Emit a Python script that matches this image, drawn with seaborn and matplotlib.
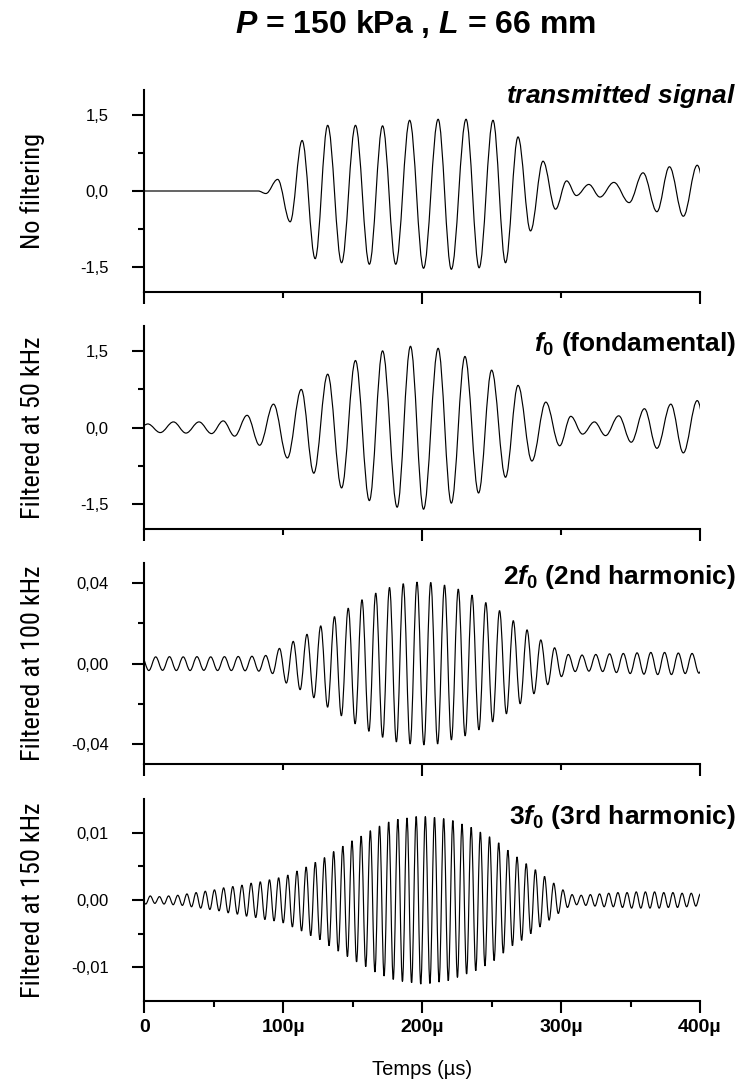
import numpy as np
import matplotlib
matplotlib.use("Agg")
import matplotlib.pyplot as plt
import matplotlib.font_manager as fm
from matplotlib.path import Path
from matplotlib.patches import PathPatch
from matplotlib.ticker import FixedLocator, FuncFormatter
import seaborn as sns

# ---------------------------------------------------------------- data
# Unfiltered transmitted signal: successive extrema (time in µs, amplitude)
raw_t = [0, 82, 87.5, 96, 105, 113.6, 123, 132, 142, 152,
         162, 171.5, 181, 191, 201, 211.5, 221, 231.6, 241, 251,
         260, 269, 278, 287, 296, 304, 311, 320, 328, 338,
         349, 359, 369, 378, 388, 398, 407]
raw_v = [0.0, 0.0, -0.05, 0.23, -0.61, 1.00, -1.34, 1.30, -1.42, 1.30,
         -1.45, 1.29, -1.45, 1.40, -1.53, 1.42, -1.55, 1.42, -1.52, 1.40,
         -1.42, 1.07, -0.79, 0.59, -0.36, 0.20, -0.09, 0.13, -0.12, 0.17,
         -0.23, 0.36, -0.41, 0.48, -0.50, 0.51, -0.48]

# Fundamental (50 kHz band): successive extrema
f0_t = [0, 2.5, 11.5, 21, 30, 39.4, 48.4, 56.8, 65, 74,
        83, 93, 103, 113, 122, 132, 142, 152, 162, 171.5,
        182, 191.6, 201, 211.5, 221, 230.8, 240.6, 250, 260, 269,
        279, 289, 299, 307, 315.5, 324, 332, 341.5, 350.5, 360,
        369, 379, 388, 398, 407]
f0_v = [0.05, 0.07, -0.10, 0.11, -0.11, 0.11, -0.12, 0.13, -0.17, 0.24,
        -0.35, 0.46, -0.60, 0.75, -0.90, 1.05, -1.19, 1.32, -1.44, 1.51,
        -1.57, 1.60, -1.61, 1.56, -1.49, 1.40, -1.29, 1.13, -0.98, 0.83,
        -0.66, 0.50, -0.36, 0.22, -0.13, 0.11, -0.16, 0.23, -0.29, 0.37,
        -0.41, 0.46, -0.50, 0.53, -0.50]

# 2nd harmonic (100 kHz band): magnitude of each successive half-cycle,
# crest first, extrema spaced by half a period
h2_first, h2_half = -1.7, 4.95
h2_amp = [0.0033,
          0.0035, 0.0033, 0.0034, 0.0034, 0.0035, 0.0033, 0.0035, 0.0034, 0.0034,
          0.0033, 0.0035, 0.0034, 0.0035, 0.0035, 0.0036, 0.0036, 0.0038, 0.0040,
          0.0050, 0.0075, 0.0097, 0.0110, 0.0130, 0.0145, 0.0170, 0.0187, 0.0217,
          0.0233, 0.0260, 0.0275, 0.0300, 0.0317, 0.0337, 0.0350, 0.0367, 0.0378,
          0.0390, 0.0397, 0.0400, 0.0405, 0.0405, 0.0403, 0.0400, 0.0390, 0.0380,
          0.0370, 0.0360, 0.0340, 0.0330, 0.0303, 0.0290, 0.0263, 0.0250, 0.0213,
          0.0200, 0.0167, 0.0150, 0.0117, 0.0105, 0.0078, 0.0065, 0.0045,
          0.0040, 0.0042, 0.0038, 0.0045, 0.0040, 0.0048, 0.0045, 0.0050, 0.0050,
          0.0053, 0.0053, 0.0055, 0.0055, 0.0055, 0.0055, 0.0052, 0.0050, 0.0050,
          0.0048, 0.0048]

# 3rd harmonic (150 kHz band): same layout
h3_first, h3_half = -2.3, 3.3
h3_amp = [0.0006,
          0.0006, 0.0006, 0.0005, 0.0005, 0.0006, 0.0006, 0.0007, 0.0007, 0.0008, 0.0009,
          0.0010, 0.0011, 0.0012, 0.0013, 0.0014, 0.0015, 0.0016, 0.0018, 0.0019, 0.0020,
          0.0021, 0.0022, 0.0024, 0.0025, 0.0026, 0.0027, 0.0029, 0.0030, 0.0031, 0.0033,
          0.0034, 0.0037, 0.0040, 0.0043, 0.0046, 0.0049, 0.0053, 0.0056, 0.0059, 0.0063,
          0.0068, 0.0072, 0.0076, 0.0080, 0.0084, 0.0088, 0.0092, 0.0095, 0.0099, 0.0103,
          0.0107, 0.0110, 0.0113, 0.0116, 0.0118, 0.0120, 0.0121, 0.0122, 0.0123, 0.0124,
          0.0125, 0.0124, 0.0124, 0.0123, 0.0122, 0.0121, 0.0120, 0.0118, 0.0115, 0.0113,
          0.0110, 0.0108, 0.0105, 0.0101, 0.0098, 0.0094, 0.0090, 0.0085, 0.0079, 0.0074,
          0.0068, 0.0064, 0.0060, 0.0054, 0.0050, 0.0045, 0.0040, 0.0035, 0.0030, 0.0025,
          0.0020, 0.0015, 0.0011, 0.0008, 0.0007, 0.0007, 0.0008, 0.0008, 0.0009, 0.0009,
          0.0010, 0.0010, 0.0010, 0.0011, 0.0011, 0.0011, 0.0012, 0.0012, 0.0012, 0.0012,
          0.0012, 0.0012, 0.0012, 0.0011, 0.0011, 0.0011, 0.0011, 0.0010, 0.0010, 0.0010,
          0.0009, 0.0009]

panel_ylabels = ["No filtering", "Filtered at 50 kHz",
                 "Filtered at 100 kHz", "Filtered at 150 kHz"]
panel_tags = [r"$\mathit{transmitted\ signal}$",
              r"$\mathit{f}_{\mathit{0}}$ (fondamental)",
              r"$\mathit{2f}_{\mathit{0}}$ (2nd harmonic)",
              r"$\mathit{3f}_{\mathit{0}}$ (3rd harmonic)"]
panel_ylim = [2.0, 2.0, 0.05, 0.015]
panel_major = [[-1.5, 0.0, 1.5], [-1.5, 0.0, 1.5],
               [-0.04, 0.0, 0.04], [-0.01, 0.0, 0.01]]
panel_minor = [[-0.75, 0.75], [-0.75, 0.75], [-0.02, 0.02], [-0.005, 0.005]]
panel_decimals = [1, 1, 2, 2]
x_major = [0, 100, 200, 300, 400]
x_labels = ["0", "100µ", "200µ", "300µ", "400µ"]
title = r"$\mathit{P}$ = 150 kPa , $\mathit{L}$ = 66 mm"
xlabel = "Temps (µs)"


def harmonic_extrema(first, half, amp):
    t = first + half * np.arange(len(amp))
    sign = np.where(np.arange(len(amp)) % 2 == 0, 1.0, -1.0)
    return t, sign * np.asarray(amp)


def wave_path(t, v):
    """Smooth half-wave arcs between successive extrema (flat tangents)."""
    c = 1.0 - 2.0 / np.pi
    verts = [(t[0], v[0])]
    codes = [Path.MOVETO]
    for i in range(1, len(t)):
        dt = t[i] - t[i - 1]
        verts += [(t[i - 1] + c * dt, v[i - 1]), (t[i] - c * dt, v[i]), (t[i], v[i])]
        codes += [Path.CURVE4] * 3
    return Path(verts, codes)


h2_t, h2_v = harmonic_extrema(h2_first, h2_half, h2_amp)
h3_t, h3_v = harmonic_extrema(h3_first, h3_half, h3_amp)
signals = [(raw_t, raw_v), (f0_t, f0_v), (h2_t, h2_v), (h3_t, h3_v)]

# ---------------------------------------------------------------- style
sns.set_theme(style="ticks", rc={
    "axes.linewidth": 1.5, "axes.edgecolor": "black",
    "xtick.color": "black", "ytick.color": "black",
    "text.color": "black", "axes.labelcolor": "black",
    "xtick.major.size": 8.6, "xtick.minor.size": 4.3,
    "ytick.major.size": 8.6, "ytick.minor.size": 4.3,
    "xtick.major.width": 1.5, "xtick.minor.width": 1.5,
    "ytick.major.width": 1.5, "ytick.minor.width": 1.5,
})
plt.rcParams["font.family"] = ["Liberation Sans", "DejaVu Sans"]
plt.rcParams["mathtext.fontset"] = "custom"
plt.rcParams["mathtext.rm"] = "Liberation Sans:bold"
plt.rcParams["mathtext.it"] = "Liberation Sans:italic:bold"
plt.rcParams["mathtext.bf"] = "Liberation Sans:bold"

names = {f.name for f in fm.fontManager.ttflist}
narrow_family = None
for cand in ["Liberation Sans Narrow", "Arial Narrow", "DejaVu Sans Condensed",
             "Roboto Condensed", "Open Sans Condensed"]:
    if cand in names:
        narrow_family = cand
        break
narrow_stretch = "normal"
if narrow_family is None:
    cond = [f for f in fm.fontManager.ttflist if f.stretch == "condensed"
            and f.style == "normal" and f.weight in (400, "normal")]
    if cond:
        narrow_family = cond[0].name
        narrow_stretch = "condensed"
    else:
        narrow_family = "Liberation Sans"

W, H = 740, 1081
fig = plt.figure(figsize=(W / 100, H / 100), dpi=100)

# panel frames in pixels: (top, bottom)
frames = [(90, 292), (326, 529), (563, 764), (799, 1001)]
x_left, x_right = 144.3, 700
tag_baselines = [103, 351, 584, 824]

for i, ((t, v), (top, bot)) in enumerate(zip(signals, frames)):
    ax = fig.add_axes([x_left / W, 1 - bot / H, (x_right - x_left) / W, (bot - top) / H])
    ax.add_patch(PathPatch(wave_path(np.asarray(t, float), np.asarray(v, float)),
                           fill=False, edgecolor="black", lw=0.85))
    ax.set_xlim(0, 400)
    ax.set_ylim(-panel_ylim[i], panel_ylim[i])
    sns.despine(ax=ax)

    ax.yaxis.set_major_locator(FixedLocator(panel_major[i]))
    ax.yaxis.set_minor_locator(FixedLocator(panel_minor[i]))
    d = panel_decimals[i]
    ax.yaxis.set_major_formatter(
        FuncFormatter(lambda y, _, d=d: f"{y + 0.0:.{d}f}".replace(".", ",")))
    ax.tick_params(axis="y", which="major", labelsize=12, pad=17)

    if i < 3:
        ax.xaxis.set_major_locator(FixedLocator([0, 200, 400]))
        ax.xaxis.set_minor_locator(FixedLocator([100, 300]))
        ax.tick_params(axis="x", which="both", labelbottom=False)
    else:
        ax.xaxis.set_major_locator(FixedLocator(x_major))
        ax.xaxis.set_minor_locator(FixedLocator([50, 150, 250, 350]))
        ax.set_xticklabels(x_labels, fontsize=14, fontweight="bold")
        ax.tick_params(axis="x", which="major", pad=4)

    fig.text(33 / W, 1 - (top + bot) / 2 / H, panel_ylabels[i], rotation=90,
             ha="center", va="center", fontsize=19, family=narrow_family,
             stretch=narrow_stretch)
    fig.text(736 / W, 1 - tag_baselines[i] / H, panel_tags[i], ha="right",
             va="baseline", fontsize=19, fontweight="bold")

fig.text(416 / W, 1 - 33 / H, title, ha="center", va="baseline",
         fontsize=23, fontweight="bold")
fig.text((x_left + x_right) / 2 / W, 1 - 1075 / H, xlabel, ha="center",
         va="baseline", fontsize=14.5)

fig.savefig("out.png", dpi=100, facecolor="white")
